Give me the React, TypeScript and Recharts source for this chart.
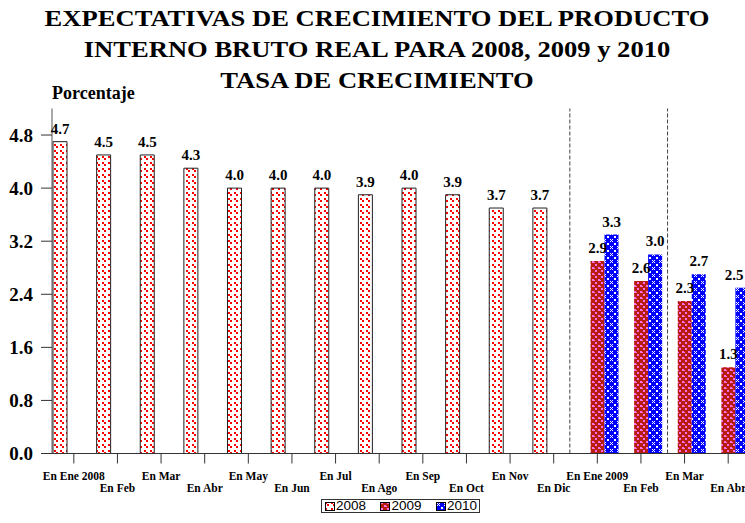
import React from "react"
import {
  BarChart,
  Bar,
  XAxis,
  YAxis,
  LabelList,
  ReferenceLine,
} from "recharts"

const MONTHS = [
  "En Ene 2008", "En Feb", "En Mar", "En Abr", "En May", "En Jun",
  "En Jul", "En Ago", "En Sep", "En Oct", "En Nov", "En Dic",
  "En Ene 2009", "En Feb", "En Mar", "En Abr",
]
const SERIES_2008 = [4.7, 4.5, 4.5, 4.3, 4.0, 4.0, 4.0, 3.9, 4.0, 3.9, 3.7, 3.7, null, null, null, null]
const SERIES_2009 = [null, null, null, null, null, null, null, null, null, null, null, null, 2.9, 2.6, 2.3, 1.3]
const SERIES_2010 = [null, null, null, null, null, null, null, null, null, null, null, null, 3.3, 3.0, 2.7, 2.5]
const Y_TICKS = [0, 0.8, 1.6, 2.4, 3.2, 4.0, 4.8]
// dashed separators, in category units from the left of the plot
const DIVIDERS = [11.87, 14.11]

const data = MONTHS.map((name, i) => ({
  name,
  slot: i + 0.5,
  y2008: SERIES_2008[i],
  y2009: SERIES_2009[i],
  y2010: SERIES_2010[i],
}))

const SERIF = "'Liberation Serif', 'Times New Roman', serif"
const VISIBLE_RIGHT = 744

function MonthTick(props: any) {
  const { x, y, payload, index } = props
  const row = index % 2 === 0 ? 14 : 26.5
  return (
    <text
      x={x}
      y={y}
      dy={row}
      textAnchor="middle"
      fontFamily={SERIF}
      fontWeight="bold"
      fontSize={11.5}
      fill="#000"
    >
      {payload.value}
    </text>
  )
}

// value above the bar, kept inside the visible part of the page
function BarLabel(props: any) {
  const { x, y, width, value } = props
  if (value == null) return null
  const cx = Math.min(Number(x) + Number(width) / 2, VISIBLE_RIGHT - 10)
  return (
    <text
      x={cx}
      y={Number(y) - 8}
      textAnchor="middle"
      fontFamily={SERIF}
      fontWeight="bold"
      fontSize={15}
      fill="#000"
    >
      {Number(value).toFixed(1)}
    </text>
  )
}

function Patterns() {
  return (
    <defs>
      <pattern id="p2008" width="6" height="6" patternUnits="userSpaceOnUse">
        <rect width="6" height="6" fill="#fff" />
        <rect x="0" y="0" width="2" height="2" fill="#ff0000" />
        <rect x="2" y="2" width="2" height="2" fill="#ff0000" />
      </pattern>
      <pattern id="p2009" width="6" height="6" patternUnits="userSpaceOnUse">
        <rect width="6" height="6" fill="#b81c0c" />
        <rect x="1" y="0" width="2" height="2" fill="#ff6ee8" />
        <rect x="4" y="3" width="2" height="2" fill="#ff6ee8" />
        <rect x="0" y="4" width="1" height="1" fill="#ff6ee8" />
      </pattern>
      <pattern id="p2010" width="7" height="7" patternUnits="userSpaceOnUse">
        <rect width="7" height="7" fill="#0000ff" />
        <rect x="1" y="1" width="1" height="1" fill="#fff" />
        <rect x="3" y="1" width="1" height="1" fill="#fff" />
        <rect x="2" y="2" width="1" height="1" fill="#fff" />
        <rect x="1" y="3" width="1" height="1" fill="#fff" />
        <rect x="3" y="3" width="1" height="1" fill="#fff" />
        <rect x="5" y="5" width="2" height="2" fill="#fff" />
      </pattern>
    </defs>
  )
}

function LegendBox() {
  const items = [
    { label: "2008", fill: "url(#p2008)" },
    { label: "2009", fill: "url(#p2009)" },
    { label: "2010", fill: "url(#p2010)" },
  ]
  return (
    <div
      style={{
        position: "absolute",
        left: 321,
        top: 499,
        width: 152,
        height: 12,
        border: "1px solid #333",
        display: "flex",
        alignItems: "center",
        justifyContent: "space-between",
        padding: "0 2px 0 3px",
        boxSizing: "content-box",
        fontFamily: "'Liberation Sans', Arial, sans-serif",
        fontSize: 13.5,
        lineHeight: "12px",
        background: "#fff",
      }}
    >
      {items.map((it) => (
        <span key={it.label} style={{ display: "flex", alignItems: "center" }}>
          <svg width={10} height={9} style={{ marginRight: 1 }}>
            <rect x={0.5} y={0.5} width={9} height={8} fill={it.fill} stroke="#000" />
          </svg>
          {it.label}
        </span>
      ))}
    </div>
  )
}

export default function App() {
  return (
    <div
      style={{
        position: "absolute",
        left: 0,
        top: 0,
        width: 745,
        height: 523,
        overflow: "hidden",
        background: "#fff",
      }}
    >
      <div
        style={{
          position: "absolute",
          left: 0,
          top: 3,
          width: 754,
          textAlign: "center",
          fontFamily: SERIF,
          fontWeight: "bold",
          fontSize: 23,
          lineHeight: "31px",
          transform: "scaleX(1.155)",
          transformOrigin: "377px 0",
          color: "#000",
        }}
      >
        <div>EXPECTATIVAS DE CRECIMIENTO DEL PRODUCTO</div>
        <div>INTERNO BRUTO REAL PARA 2008, 2009 y 2010</div>
        <div>TASA DE CRECIMIENTO</div>
      </div>
      <div
        style={{
          position: "absolute",
          left: 52,
          top: 84,
          fontFamily: SERIF,
          fontWeight: "bold",
          fontSize: 18,
          lineHeight: "18px",
          color: "#000",
        }}
      >
        Porcentaje
      </div>
      <div style={{ position: "absolute", left: 0, top: 0 }}>
        <BarChart
          width={752}
          height={523}
          data={data}
          margin={{ top: 108.5, right: 2, left: 0, bottom: 24 }}
          barGap={0}
          barCategoryGap={1}
        >
          <Patterns />
          <XAxis
            dataKey="name"
            height={45.5}
            interval={0}
            tickSize={10}
            tickMargin={2}
            tick={<MonthTick />}
            axisLine={{ stroke: "#333" }}
            tickLine={{ stroke: "#333" }}
          />
          <XAxis
            xAxisId="top"
            orientation="top"
            dataKey="name"
            height={0}
            tick={false}
            tickLine={false}
            axisLine={{ stroke: "#444" }}
          />
          <XAxis
            xAxisId="div"
            dataKey="slot"
            type="number"
            domain={[0, 16]}
            allowDataOverflow
            hide
          />
          <YAxis
            width={52}
            domain={[0, 5.2]}
            ticks={Y_TICKS}
            tickFormatter={(v: number) => v.toFixed(1)}
            tickSize={11}
            tickMargin={8}
            axisLine={{ stroke: "#555" }}
            tickLine={{ stroke: "#333" }}
            tick={{ fontFamily: SERIF, fontWeight: "bold", fontSize: 19, fill: "#000" }}
          />
          {DIVIDERS.map((d) => (
            <ReferenceLine
              key={d}
              x={d}
              xAxisId="div"
              stroke="#444"
              strokeDasharray="4 2"
            />
          ))}
          <Bar dataKey="y2008" fill="url(#p2008)" stroke="#222" strokeWidth={1} isAnimationActive={false}>
            <LabelList dataKey="y2008" content={<BarLabel />} />
          </Bar>
          <Bar dataKey="y2009" fill="url(#p2009)" isAnimationActive={false}>
            <LabelList dataKey="y2009" content={<BarLabel />} />
          </Bar>
          <Bar dataKey="y2010" fill="url(#p2010)" isAnimationActive={false}>
            <LabelList dataKey="y2010" content={<BarLabel />} />
          </Bar>
        </BarChart>
      </div>
      <LegendBox />
    </div>
  )
}
